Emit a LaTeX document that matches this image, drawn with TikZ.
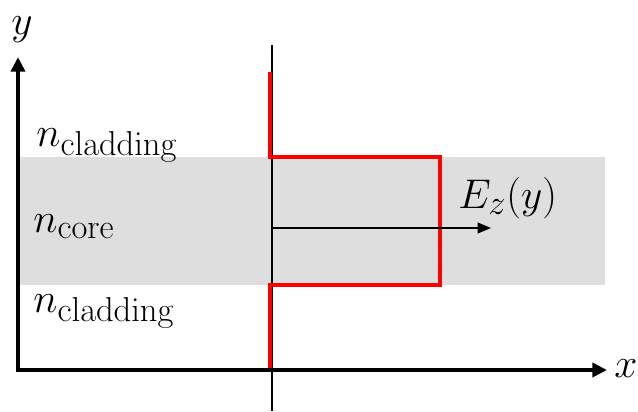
\documentclass[tikz,border=0pt]{standalone}
\usetikzlibrary{arrows.meta}
\begin{document}
\begin{tikzpicture}[x=0.75pt,y=-0.75pt,
  lbl/.style={inner sep=0pt, font=\Huge, scale=1.25},
  axisline/.style={line width=3pt, line join=miter, {Triangle[length=11pt,width=10.5pt]}-{Triangle[length=11pt,width=10.5pt]}},
  thin/.style={line width=1.2pt},
  profile/.style={red, line width=2.4pt},
  field/.style={line width=1.2pt, -{Triangle[length=10pt,width=8pt]}}
]
\useasboundingbox (0,0) rectangle (638,411);
\fill[black!13] (20,157) rectangle (605,285);
% coordinates
\coordinate (O) at (18,370);
\coordinate (Ytip) at (18,57);
\coordinate (Xtip) at (607,370);
\coordinate (Vtop) at (272,45);
\coordinate (Vbot) at (272,411);
\coordinate (P1) at (270,72);
\coordinate (P2) at (270,157);
\coordinate (P3) at (440,157);
\coordinate (P4) at (440,285);
\coordinate (P5) at (270,285);
\coordinate (P6) at (270,370);
\coordinate (Fs) at (272,228);
\coordinate (Fe) at (491,228);
% drawing
\draw[thin] (Vtop) -- (Vbot);
\draw[profile] (P1) -- (P2) -- (P3) -- (P4) -- (P5) -- (P6);
\draw[field] (Fs) -- (Fe);
\draw[axisline] (Ytip) -- (O) -- (Xtip);
% labels
\node[lbl, anchor=base] (ylab) at (22,34) {$y$};
\node[lbl, anchor=base west] (xlab) at (614,377) {$x$};
\node[lbl, anchor=base west] (nclad1) at (36,146) {$n_{\mathrm{cladding}}$};
\node[lbl, anchor=base west] (ncore) at (33,232) {$n_{\mathrm{core}}$};
\node[lbl, anchor=base west] (nclad2) at (33,312) {$n_{\mathrm{cladding}}$};
\node[lbl, anchor=base west] (ez) at (458,208) {$E_z(y)$};
\end{tikzpicture}
\end{document}
